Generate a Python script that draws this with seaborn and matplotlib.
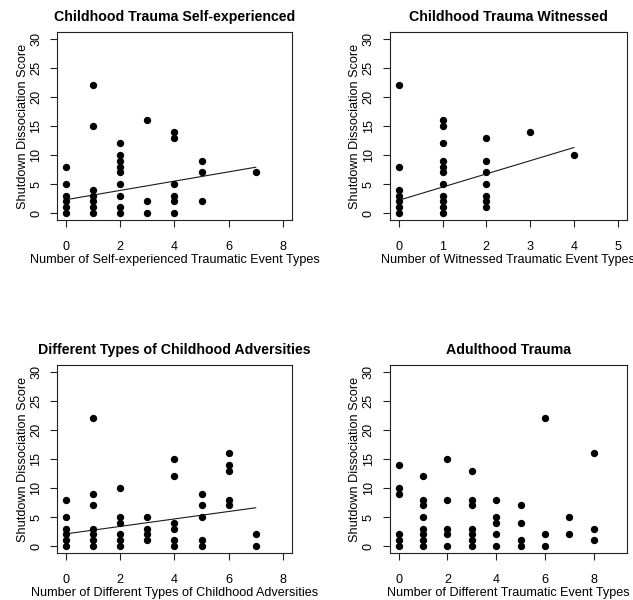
import matplotlib
matplotlib.use("Agg")
import matplotlib.pyplot as plt
import seaborn as sns
import pandas as pd

# ---------------- data ----------------
self_x = [0, 0, 0, 0, 0, 0, 1, 1, 1, 1, 1, 1, 1, 2, 2, 2, 2, 2, 2, 2, 2, 2,
          3, 3, 3, 4, 4, 4, 4, 4, 4, 5, 5, 5, 7]
self_y = [8, 5, 3, 2, 1, 0, 22, 15, 4, 3, 2, 1, 0, 12, 10, 9, 8, 7, 5, 3, 1, 0,
          16, 2, 0, 14, 13, 5, 3, 2, 0, 9, 7, 2, 7]
self_line_x = [0, 7]
self_line_y = [2.3, 7.9]

wit_x = [0, 0, 0, 0, 0, 0, 0, 1, 1, 1, 1, 1, 1, 1, 1, 1, 1, 1,
         2, 2, 2, 2, 2, 2, 2, 3, 4]
wit_y = [22, 8, 4, 3, 2, 1, 0, 16, 15, 12, 9, 8, 7, 5, 3, 2, 1, 0,
         13, 9, 7, 5, 3, 2, 1, 14, 10]
wit_line_x = [0, 4]
wit_line_y = [2.2, 11.3]

adv_x = [0, 0, 0, 0, 0, 0, 1, 1, 1, 1, 1, 1, 1, 2, 2, 2, 2, 2, 2,
         3, 3, 3, 3, 4, 4, 4, 4, 4, 4, 5, 5, 5, 5, 5, 6, 6, 6, 6, 6, 7, 7]
adv_y = [8, 5, 3, 2, 1, 0, 22, 9, 7, 3, 2, 1, 0, 10, 5, 4, 2, 1, 0,
         5, 3, 2, 1, 15, 12, 4, 3, 1, 0, 9, 7, 5, 1, 0, 16, 14, 13, 8, 7, 2, 0]
adv_line_x = [0, 7]
adv_line_y = [2.1, 6.6]

adult_x = [0, 0, 0, 0, 0, 0, 1, 1, 1, 1, 1, 1, 1, 1, 2, 2, 2, 2, 2,
           3, 3, 3, 3, 3, 3, 3, 4, 4, 4, 4, 4, 5, 5, 5, 5, 6, 6, 6, 7, 7, 8, 8, 8]
adult_y = [14, 10, 9, 2, 1, 0, 12, 8, 7, 5, 3, 2, 1, 0, 15, 8, 3, 2, 0,
           13, 8, 7, 3, 2, 1, 0, 8, 5, 4, 2, 0, 7, 4, 1, 0, 22, 2, 0, 5, 2, 16, 3, 1]

titles = ["Childhood Trauma Self-experienced", "Childhood Trauma Witnessed",
          "Different Types of Childhood Adversities", "Adulthood Trauma"]
xlabels = ["Number of Self-experienced Traumatic Event Types",
           "Number of Witnessed Traumatic Event Types",
           "Number of Different Types of Childhood Adversities",
           "Number of Different Traumatic Event Types"]
ylabel = "Shutdown Dissociation Score"
xmax_list = [8, 5, 8, 9]
xticks_list = [[0, 2, 4, 6, 8], [0, 1, 2, 3, 4, 5], [0, 2, 4, 6, 8], [0, 2, 4, 6, 8]]
yticks = [0, 5, 10, 15, 20, 25, 30]

# ---------------- style ----------------
sns.set_theme(style="ticks")
plt.rcParams['font.family'] = ['Liberation Sans', 'DejaVu Sans']
plt.rcParams['text.color'] = 'black'
plt.rcParams['axes.labelcolor'] = 'black'

W, H = 633, 600
fig = plt.figure(figsize=(W / 100, H / 100), dpi=100)

boxes = [(57.3, 32, 291.7, 220), (390, 32, 626.7, 220),
         (57.3, 365, 291.7, 553), (390, 365, 626.7, 553)]

panels = [
    (self_x, self_y, self_line_x, self_line_y),
    (wit_x, wit_y, wit_line_x, wit_line_y),
    (adv_x, adv_y, adv_line_x, adv_line_y),
    (adult_x, adult_y, None, None),
]

for i, (xs, ys, lx, ly) in enumerate(panels):
    l, t, r, b = boxes[i]
    ax = fig.add_axes([l / W, 1 - b / H, (r - l) / W, (b - t) / H])
    df = pd.DataFrame({"x": xs, "y": ys})
    sns.scatterplot(data=df, x="x", y="y", ax=ax, color="black", s=28,
                    linewidth=0, legend=False, zorder=3)
    if lx is not None:
        ldf = pd.DataFrame({"x": lx, "y": ly})
        sns.lineplot(data=ldf, x="x", y="y", ax=ax, color="#1a1a1a",
                     linewidth=0.8, zorder=2)
    xm = xmax_list[i]
    ax.set_xlim(-0.04 * xm, 1.04 * xm)
    ax.set_ylim(-1.2, 31.2)
    ax.set_xticks(xticks_list[i])
    ax.set_yticks(yticks)
    for s in ax.spines.values():
        s.set_visible(True)
        s.set_linewidth(0.8)
        s.set_color("#222222")
    ax.tick_params(length=5, width=0.8, color="#222222", labelsize=9.1,
                   labelcolor="black")
    ax.tick_params(axis="x", pad=10)
    ax.tick_params(axis="y", pad=6, labelrotation=90)
    for lab in ax.get_yticklabels():
        lab.set_va("center")
    ax.set_title(titles[i], fontsize=10.2, fontweight="bold", pad=8)
    ax.set_xlabel(xlabels[i], fontsize=9.1, labelpad=0.5)
    ax.set_ylabel(ylabel, fontsize=9.1, labelpad=1)

fig.savefig("out.png", dpi=100)
